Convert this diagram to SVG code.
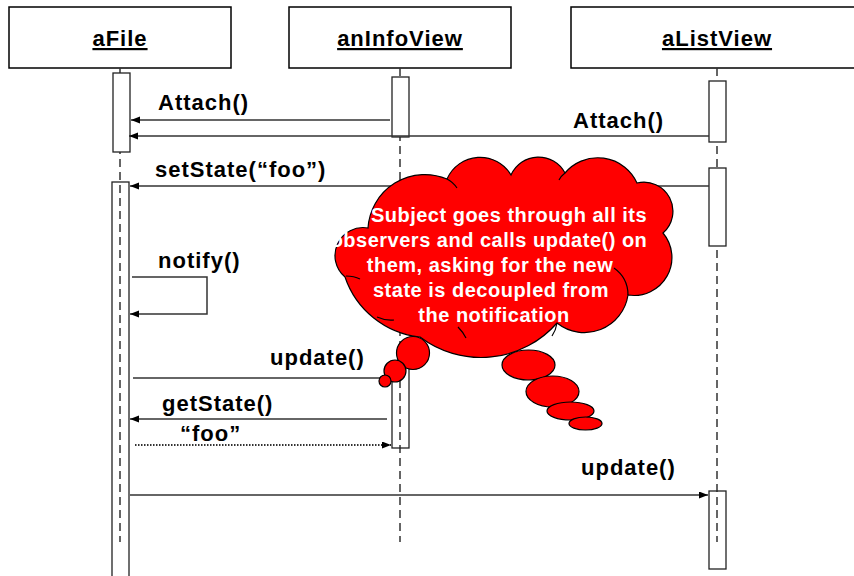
<svg xmlns="http://www.w3.org/2000/svg" width="854" height="576" viewBox="0 0 854 576">
<style>
.hdr{fill:#fff;stroke:#000;stroke-width:1.5}
.htxt{font-family:"Liberation Sans",Arial,sans-serif;font-weight:bold;font-size:22px;letter-spacing:1px;text-anchor:middle;text-decoration:underline;fill:#000}
.lbl{font-family:"Liberation Sans",Arial,sans-serif;font-weight:bold;font-size:22px;letter-spacing:1px;fill:#000}
.life{stroke:#333;stroke-width:1.5;stroke-dasharray:8,5;fill:none}
.act{fill:#fff;stroke:#222;stroke-width:1.3}
.act2{fill:none;stroke:#222;stroke-width:1.3}
.msg{stroke:#333;stroke-width:1.5;fill:none}
.dot{stroke:#333;stroke-width:2;stroke-dasharray:1.5,1.5;fill:none}
.red{fill:#ff0000;stroke:#000;stroke-width:1.2}
.inner{fill:none;stroke:#000;stroke-width:1.2}
.ctxt{font-family:"Liberation Sans",Arial,sans-serif;font-weight:bold;font-size:20px;letter-spacing:0.5px;text-anchor:middle;fill:#fff}
</style>
<defs>
<marker id="ah" markerUnits="userSpaceOnUse" markerWidth="10" markerHeight="8" refX="9" refY="3.5" orient="auto">
<path d="M0,0 L9,3.5 L0,7 z" fill="#000"/>
</marker>
</defs>

<g id="aFile">
<rect class="hdr" x="9" y="7" width="222" height="61"/>
<text class="htxt" x="120" y="46">aFile</text>
<line class="life" x1="120" y1="68" x2="120" y2="542"/>
<rect class="act" x="113" y="73" width="17" height="79"/>
<rect class="act2" x="112" y="182" width="17" height="400"/>
</g>

<g id="anInfoView">
<rect class="hdr" x="289" y="7" width="222" height="61"/>
<text class="htxt" x="400" y="46">anInfoView</text>
<line class="life" x1="400" y1="68" x2="400" y2="542"/>
<rect class="act" x="392" y="77" width="17" height="60"/>
<rect class="act2" x="392" y="362" width="17" height="86"/>
</g>

<g id="aListView">
<rect class="hdr" x="571" y="7" width="292" height="61"/>
<text class="htxt" x="717" y="46">aListView</text>
<line class="life" x1="717" y1="68" x2="717" y2="542"/>
<rect class="act" x="709" y="81" width="17" height="61"/>
<rect class="act" x="709" y="168" width="17" height="78"/>
<rect class="act2" x="709" y="491" width="17" height="78"/>
</g>

<g id="connectors">
<line class="msg" x1="390" y1="120" x2="131" y2="120" marker-end="url(#ah)"/>
<text class="lbl" x="158" y="110">Attach()</text>
<line class="msg" x1="709" y1="136" x2="129" y2="136" marker-end="url(#ah)"/>
<text class="lbl" x="573" y="128">Attach()</text>
<line class="msg" x1="709" y1="186" x2="130" y2="186" marker-end="url(#ah)"/>
<text class="lbl" x="155" y="177">setState(“foo”)</text>
<polyline class="msg" points="132,277 207,277 207,314 130,314" marker-end="url(#ah)"/>
<text class="lbl" x="158" y="268">notify()</text>
<line class="msg" x1="133" y1="378" x2="391" y2="378" marker-end="url(#ah)"/>
<text class="lbl" x="270" y="365">update()</text>
<line class="msg" x1="387" y1="419" x2="130" y2="419" marker-end="url(#ah)"/>
<text class="lbl" x="162" y="411">getState()</text>
<line class="dot" x1="135" y1="445" x2="391" y2="445" marker-end="url(#ah)"/>
<text class="lbl" x="180" y="441">“foo”</text>
<line class="msg" x1="130" y1="495" x2="708" y2="495" marker-end="url(#ah)"/>
<text class="lbl" x="581" y="475">update()</text>
</g>

<g id="cloud">
<path class="red" d="M345,277 A28,28 0 0,1 368,228 A57,57 0 0,1 447,179 A36,36 0 0,1 511,175 A30,30 0 0,1 565,173 A43,43 0 0,1 637,183 A29,29 0 0,1 663,233 A38,38 0 0,1 628,295 A44,44 0 0,1 557,323 A101,101 0 0,1 420,337 A89,89 0 0,1 345,277 Z"/>
<path class="inner" d="M346,276 Q354,276 360,279"/>
<path class="inner" d="M377,317 Q386,321 394,320"/>
<path class="inner" d="M447,179 Q453,182 457,188"/>
<path class="inner" d="M565,173 Q561,176 559,180"/>
<path class="inner" d="M628,295 Q628,278 614,268"/>
<path class="inner" d="M458,327 Q463,332 466,338"/>
<path class="inner" d="M557,323 Q556,330 552,336"/>
<circle class="red" cx="413" cy="353" r="16.5"/>
<circle class="red" cx="395" cy="371" r="11"/>
<circle class="red" cx="385" cy="381" r="6"/>
<ellipse class="red" cx="528.5" cy="365" rx="26.5" ry="15"/>
<ellipse class="red" cx="552.5" cy="391.5" rx="26.5" ry="15.5"/>
<ellipse class="red" cx="570.5" cy="411" rx="23.5" ry="9"/>
<ellipse class="red" cx="585.5" cy="423.5" rx="16.5" ry="6.5"/>
<text class="ctxt" x="509" y="222">Subject goes through all its</text>
<text class="ctxt" x="489" y="247">observers and calls update() on</text>
<text class="ctxt" x="490" y="272">them, asking for the new</text>
<text class="ctxt" x="491" y="297">state is decoupled from</text>
<text class="ctxt" x="494" y="322">the notification</text>
</g>
</svg>
